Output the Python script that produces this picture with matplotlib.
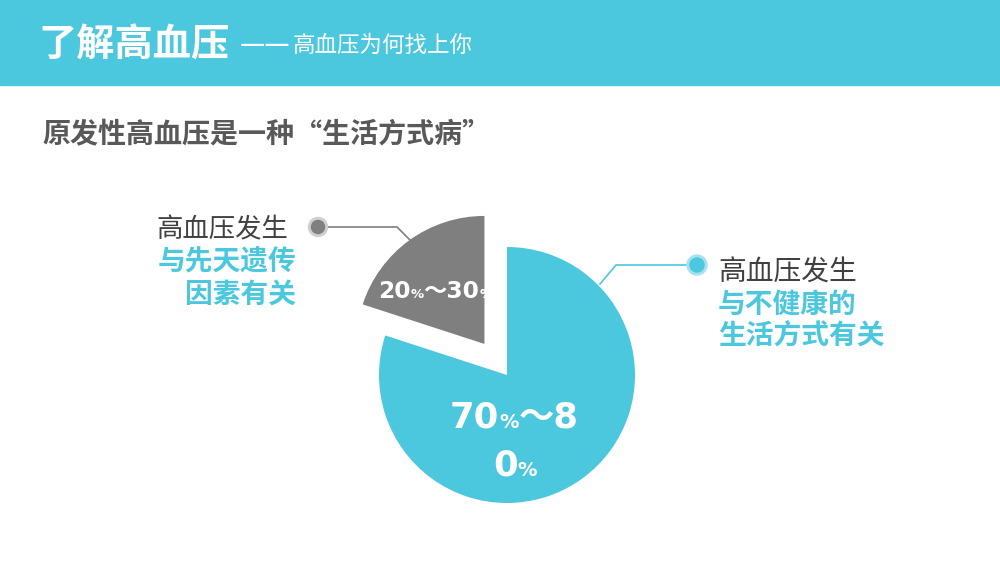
import matplotlib.pyplot as plt
from matplotlib.patches import Rectangle, Circle
from matplotlib.offsetbox import TextArea, HPacker, AnnotationBbox

# 数据
categories = ['先天遗传', '不健康的生活方式']
shares = [20, 80]                      # 从扇形角度估计
share_labels = [
    [[('20', 16.8), ('%', 9.5), ('～30', 16.8), ('%', 9.5)]],
    [[('70', 25.5), ('%', 14), ('～8', 25.5)], [('0', 25.5), ('%', 14)]],
]
left_lines = ['高血压发生', '与先天遗传', '因素有关']
right_lines = ['高血压发生', '与不健康的', '生活方式有关']

teal = '#4BC7DE'
gray = '#7F7F7F'
cjk = ['Noto Sans CJK SC', 'DejaVu Sans']
num = ['DejaVu Sans', 'Noto Sans CJK SC']

fig = plt.figure(figsize=(10, 5.63), dpi=100)

# 饼图 (半径为 1 的坐标, 中心在像素 (507, 375), 半径 128 像素)
cx, cy, rpx = 507, 375, 128
pax = fig.add_axes([0, 0, 1, 1])
pax.pie(shares, colors=[gray, teal], startangle=90, counterclock=True,
        explode=[0.3, 0], radius=1, wedgeprops=dict(linewidth=0))
pax.set_aspect('auto')
pax.set_xlim(-cx / rpx, (1000 - cx) / rpx)
pax.set_ylim(-(563 - cy) / rpx, cy / rpx)
pax.axis('off')

# 文字层, 像素坐标
ax = fig.add_axes([0, 0, 1, 1])
ax.set_xlim(0, 1000)
ax.set_ylim(563, 0)
ax.axis('off')
ax.patch.set_visible(False)

# 顶部色条
ax.add_patch(Rectangle((0, 0), 1000, 85, color=teal, zorder=0))
ax.text(38, 45, '了解高血压', color='white', fontsize=27.5, fontweight='bold',
        family=cjk, va='center', ha='left')
ax.text(240, 45, '——', color='white', fontsize=20.5, family=cjk, va='center', ha='left')
ax.text(293, 45, '高血压为何找上你', color='white', fontsize=16.2,
        family=cjk, va='center', ha='left')
ax.text(42, 134, '原发性高血压是一种“生活方式病”', color='#595959', fontsize=20.2,
        fontweight='bold', family=cjk, va='center', ha='left')


def rich_label(x, y, parts):
    kids = [TextArea(s, textprops=dict(color='white', fontsize=fs, fontweight='bold',
                                       family=num)) for s, fs in parts]
    box = HPacker(children=kids, align='baseline', pad=0, sep=0)
    ab = AnnotationBbox(box, (x, y), xycoords='data', frameon=False,
                        box_alignment=(0.5, 0.5), pad=0)
    ax.add_artist(ab)


rich_label(435, 292, share_labels[0][0])
rich_label(514, 418, share_labels[1][0])
rich_label(515, 466, share_labels[1][1])

# 左侧注释
ax.plot([318, 397, 411], [227, 227, 241], color=gray, lw=1.2, zorder=2)
ax.add_patch(Circle((318, 227), 9.5, color='#CFCFCF', zorder=3))
ax.add_patch(Circle((318, 227), 6.5, color=gray, zorder=4))
for i, s in enumerate(left_lines):
    if i == 0:
        ax.text(288, 230, s, fontsize=19, family=cjk, ha='right', va='center',
                color='#404040')
    else:
        ax.text(296, 230 + i * 32.5, s, fontsize=20, family=cjk, ha='right', va='center',
                color=teal, fontweight='bold')

# 右侧注释
ax.plot([697, 616, 600], [265, 265, 284], color=teal, lw=1.2, zorder=2)
ax.add_patch(Circle((697, 265), 10, color='#A8E1EE', zorder=3))
ax.add_patch(Circle((697, 265), 7, color=teal, zorder=4))
for i, s in enumerate(right_lines):
    ax.text(718, 273 + i * 32, s, fontsize=20, family=cjk, ha='left', va='center',
            color='#404040' if i == 0 else teal,
            fontweight='normal' if i == 0 else 'bold')

fig.savefig('out.png', dpi=100)
